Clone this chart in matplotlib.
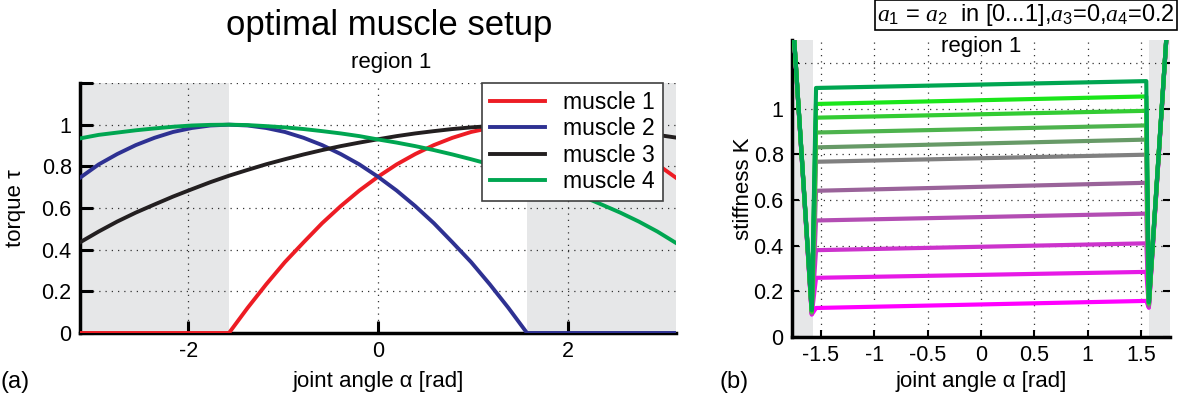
import numpy as np
import matplotlib
matplotlib.use('Agg')
import matplotlib.pyplot as plt

plt.rcParams['font.family'] = ['Liberation Sans', 'DejaVu Sans']
plt.rcParams['axes.unicode_minus'] = False
plt.rcParams['mathtext.fontset'] = 'custom'
plt.rcParams['mathtext.it'] = 'Liberation Serif:italic'
plt.rcParams['mathtext.rm'] = 'Liberation Sans'

# ---- panel (a): muscle torque curves ----
alpha = [-3.142, -2.945, -2.749, -2.553, -2.356, -2.160, -1.963, -1.767, -1.571,
         -1.374, -1.178, -0.982, -0.785, -0.589, -0.393, -0.196, 0.0,
         0.196, 0.393, 0.589, 0.785, 0.982, 1.178, 1.374, 1.571,
         1.767, 1.963, 2.160, 2.356, 2.553, 2.749, 2.945, 3.142]
tau_m1 = [0.0, 0.0, 0.0, 0.0, 0.0, 0.0, 0.0, 0.0, 0.0,
          0.121, 0.234, 0.340, 0.435, 0.527, 0.609, 0.684, 0.75,
          0.809, 0.859, 0.902, 0.937, 0.965, 0.984, 0.996, 1.0,
          0.996, 0.984, 0.965, 0.937, 0.902, 0.859, 0.809, 0.745]
tau_m2 = [0.745, 0.809, 0.859, 0.902, 0.937, 0.965, 0.984, 0.996, 1.0,
          0.996, 0.984, 0.965, 0.937, 0.902, 0.859, 0.809, 0.75,
          0.684, 0.609, 0.527, 0.435, 0.340, 0.234, 0.121, 0.0,
          0.0, 0.0, 0.0, 0.0, 0.0, 0.0, 0.0, 0.0]
tau_m3 = [0.435, 0.487, 0.535, 0.578, 0.617, 0.655, 0.69, 0.724, 0.755,
          0.783, 0.81, 0.834, 0.857, 0.878, 0.897, 0.914, 0.93,
          0.945, 0.958, 0.969, 0.979, 0.987, 0.993, 0.998, 1.0,
          0.999, 0.996, 0.99, 0.982, 0.973, 0.962, 0.951, 0.938]
tau_m4 = [0.934, 0.951, 0.962, 0.973, 0.982, 0.99, 0.996, 0.999, 1.0,
          0.998, 0.993, 0.987, 0.979, 0.969, 0.958, 0.945, 0.929,
          0.914, 0.897, 0.878, 0.857, 0.834, 0.81, 0.783, 0.755,
          0.724, 0.69, 0.655, 0.617, 0.578, 0.535, 0.487, 0.432]
muscle_names = ['muscle 1', 'muscle 2', 'muscle 3', 'muscle 4']
muscle_colors = ['#ed1c24', '#2e3192', '#231f20', '#00a651']

region1 = (-np.pi / 2, np.pi / 2)

# ---- panel (b): stiffness for a1 = a2 in [0...1] ----
alpha_k = [-1.77, -1.585, -1.545, 1.548, 1.572, 1.77]
K_out_left = 1.45
K_out_right = 1.55
K_left = [0.127, 0.259, 0.38, 0.51, 0.64, 0.767, 0.83, 0.895, 0.96, 1.02, 1.09]
K_right = [0.158, 0.285, 0.41, 0.54, 0.675, 0.798, 0.864, 0.926, 0.99, 1.053, 1.12]
K_dip_left = [0.098, 0.1, 0.102, 0.104, 0.106, 0.108, 0.11, 0.112, 0.114, 0.116, 0.118]
K_dip_right = [0.128, 0.13, 0.133, 0.136, 0.139, 0.142, 0.144, 0.147, 0.149, 0.151, 0.153]
k_colors = ['#ff00ff', '#e619e6', '#cc33cc', '#b34db3', '#9a639a', '#808080',
            '#679a67', '#4db34d', '#33cc33', '#1ae61a', '#00a651']

W, H = 1202, 403
fig = plt.figure(figsize=(W / 100, H / 100), dpi=100)
ax1 = fig.add_axes([80 / W, (H - 333) / H, 596 / W, 250 / H])
ax2 = fig.add_axes([792 / W, (H - 337) / H, 378 / W, 297 / H])

shade = '#e6e7e8'
grid_kw = dict(linestyle=(0, (1, 4)), color='#333333', linewidth=0.9)

# panel (a)
ax1.axvspan(-np.pi, region1[0], color=shade, lw=0, zorder=0)
ax1.axvspan(region1[1], np.pi, color=shade, lw=0, zorder=0)
for vals, name, col in zip([tau_m1, tau_m2, tau_m3, tau_m4], muscle_names, muscle_colors):
    ax1.plot(alpha, vals, color=col, lw=2.8, label=name, zorder=3)
ax1.set_xlim(-np.pi, np.pi)
ax1.set_ylim(0, 1.2)
ax1.set_xticks([-2, 0, 2])
ax1.set_yticks([0, 0.2, 0.4, 0.6, 0.8, 1.0, 1.2])
ax1.set_yticklabels(['0', '0.2', '0.4', '0.6', '0.8', '1', ''])
ax1.set_axisbelow(True)
ax1.grid(True, **grid_kw)
ax1.tick_params(direction='in', length=9, width=2.2, labelsize=15.5, pad=6)
ax1.set_xlabel('joint angle α [rad]', fontsize=16)
ax1.set_ylabel('torque τ', fontsize=16)
ax1.xaxis.set_label_coords(0.5, -0.152)
ax1.yaxis.set_label_coords(-0.09, 0.5)
ax1.text(0.14, 1.30, 'region 1', fontsize=16, ha='center', va='center')
leg = ax1.legend(loc='upper right', bbox_to_anchor=(0.978, 1.0), fontsize=16.5,
                 fancybox=False, framealpha=1, edgecolor='#404040',
                 handlelength=2.4, labelspacing=0.15, borderpad=0.35,
                 handletextpad=0.8, borderaxespad=0)
leg.get_frame().set_linewidth(1.2)

# panel (b)
ax2.axvspan(-1.77, region1[0], color=shade, lw=0, zorder=0)
ax2.axvspan(region1[1], 1.77, color=shade, lw=0, zorder=0)
for i in range(len(K_left)):
    kk = [K_out_left, K_dip_left[i], K_left[i], K_right[i], K_dip_right[i], K_out_right]
    ax2.plot(alpha_k, kk, color=k_colors[i], lw=3, zorder=3)
ax2.set_xlim(-1.77, 1.77)
ax2.set_ylim(0, 1.3)
ax2.set_xticks([-1.5, -1, -0.5, 0, 0.5, 1, 1.5])
ax2.set_xticklabels(['-1.5', '-1', '-0.5', '0', '0.5', '1', '1.5'])
ax2.set_yticks([0, 0.2, 0.4, 0.6, 0.8, 1.0, 1.2])
ax2.set_yticklabels(['0', '0.2', '0.4', '0.6', '0.8', '1', ''])
ax2.set_axisbelow(True)
ax2.grid(True, **grid_kw)
ax2.tick_params(direction='in', length=5, width=1.5, labelsize=15.5, pad=6)
ax2.tick_params(axis='y', right=True)
ax2.set_xlabel('joint angle α [rad]', fontsize=16)
ax2.set_ylabel('stiffness K', fontsize=16)
ax2.xaxis.set_label_coords(0.5, -0.1145)
ax2.yaxis.set_label_coords(-0.10, 0.5)
ax2.text(0.0, 1.27, 'region 1', fontsize=16, ha='center', va='center')

for ax in (ax1, ax2):
    ax.spines['top'].set_visible(False)
    ax.spines['right'].set_visible(False)
    ax.spines['left'].set_linewidth(2.5)
    ax.spines['bottom'].set_linewidth(2.5)

fig.text(389 / W, 1 - 25 / H, 'optimal muscle setup', fontsize=25, ha='center', va='center')
fig.text(1026 / W, 1 - 15 / H, r'$a_1$ = $a_2$  in [0...1],$a_3$=0,$a_4$=0.2',
         fontsize=17, ha='center', va='center',
         bbox=dict(boxstyle='square,pad=0.1', fc='white', ec='black', lw=1.2))
fig.text(15 / W, 1 - 382 / H, '(a)', fontsize=17, ha='center', va='center')
fig.text(734 / W, 1 - 382 / H, '(b)', fontsize=17, ha='center', va='center')

fig.savefig('out.png', dpi=100)
